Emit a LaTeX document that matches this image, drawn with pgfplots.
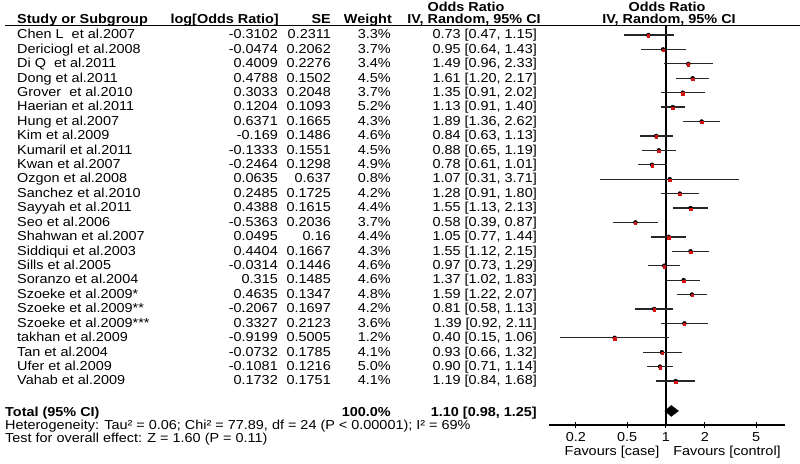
\documentclass[border=0pt]{standalone}
\usepackage{fontspec}
\setmainfont{Liberation Sans}[FakeStretch=1.11]
\usepackage{pgfplots}
\usepackage{pgfplotstable}
\pgfplotsset{compat=1.18}

\newcommand{\fs}{\fontsize{13}{14}\selectfont}
\definecolor{pointred}{RGB}{210,20,20}

% row, study, log OR, SE, weight, OR, lower, upper
\pgfplotstableread[col sep=comma]{
row,name,lor,se,w,or,lo,hi
1,Chen L~~et al.2007,-0.3102,0.2311,3.3,0.73,0.47,1.15
2,Dericiogl et al.2008,-0.0474,0.2062,3.7,0.95,0.64,1.43
3,Di Q~~et al.2011,0.4009,0.2276,3.4,1.49,0.96,2.33
4,Dong et al.2011,0.4788,0.1502,4.5,1.61,1.20,2.17
5,Grover~~et al.2010,0.3033,0.2048,3.7,1.35,0.91,2.02
6,Haerian et al.2011,0.1204,0.1093,5.2,1.13,0.91,1.40
7,Hung et al.2007,0.6371,0.1665,4.3,1.89,1.36,2.62
8,Kim et al.2009,-0.169,0.1486,4.6,0.84,0.63,1.13
9,Kumaril et al.2011,-0.1333,0.1551,4.5,0.88,0.65,1.19
10,Kwan et al.2007,-0.2464,0.1298,4.9,0.78,0.61,1.01
11,Ozgon et al.2008,0.0635,0.637,0.8,1.07,0.31,3.71
12,Sanchez et al.2010,0.2485,0.1725,4.2,1.28,0.91,1.80
13,Sayyah et al.2011,0.4388,0.1615,4.4,1.55,1.13,2.13
14,Seo et al.2006,-0.5363,0.2036,3.7,0.58,0.39,0.87
15,Shahwan et al.2007,0.0495,0.16,4.4,1.05,0.77,1.44
16,Siddiqui et al.2003,0.4404,0.1667,4.3,1.55,1.12,2.15
17,Sills et al.2005,-0.0314,0.1446,4.6,0.97,0.73,1.29
18,Soranzo et al.2004,0.315,0.1485,4.6,1.37,1.02,1.83
19,Szoeke et al.2009*,0.4635,0.1347,4.8,1.59,1.22,2.07
20,Szoeke et al.2009**,-0.2067,0.1697,4.2,0.81,0.58,1.13
21,Szoeke et al.2009***,0.3327,0.2123,3.6,1.39,0.92,2.11
22,takhan et al.2009,-0.9199,0.5005,1.2,0.40,0.15,1.06
23,Tan et al.2004,-0.0732,0.1785,4.1,0.93,0.66,1.32
24,Ufer et al.2009,-0.1081,0.1216,5.0,0.90,0.71,1.14
25,Vahab et al.2009,0.1732,0.1751,4.1,1.19,0.84,1.68
}\studies

\begin{document}
\begin{tikzpicture}[every node/.style={inner sep=0pt, font=\fs}]
\useasboundingbox (0,0) rectangle (800pt,463pt);

% x axis in log10 units: 0.2, 0.5, 1, 2, 5
\begin{axis}[
    at={(549pt,38pt)}, anchor=south west,
    scale only axis, width=236pt, height=399.5pt,
    xmin=-0.9066, xmax=0.9227,
    ymin=-28.046, ymax=-0.341,
    axis x line=bottom, axis y line=none,
    x axis line style={-, line width=1.1pt},
    xtick={-0.69897,-0.30103,0,0.30103,0.69897},
    xticklabels={0.2,0.5,1,2,5},
    tick align=center, major tick length=6pt,
    xtick style={line width=1pt, black},
    xticklabel style={anchor=base, yshift=-13pt},
    clip=false,
]
% line of no effect
\addplot[black, line width=1.3pt, forget plot] coordinates {(0,-0.341) (0,-28.046)};

% confidence intervals
\addplot[only marks, mark=none,
    error bars/.cd, x dir=both, x explicit, error mark=none,
    error bar style={line width=1.25pt, black!85}]
    table[x expr=log10(\thisrow{or}), y expr=-\thisrow{row},
          x error plus expr=log10(\thisrow{hi})-log10(\thisrow{or}),
          x error minus expr=log10(\thisrow{or})-log10(\thisrow{lo})] {\studies};

% point estimates
\addplot[only marks, mark=square*, mark size=1.2pt, color=pointred]
    table[x expr=log10(\thisrow{or}), y expr=-\thisrow{row}-0.06] {\studies};

% pooled estimate 1.10 [0.98, 1.25]
\addplot[fill=black, draw=black] table[x expr=log10(\thisrow{x}), y=y] {
x y
0.98 -27.07
1.10 -26.69
1.25 -27.07
1.10 -27.45
0.98 -27.07
};
\end{axis}

\begin{scope}[x=1pt, y=1pt]
% header
\draw[line width=1pt] (5,437.5) -- (800,437.5);
\node[anchor=base] at (466,451) {\bfseries Odds Ratio};
\node[anchor=base] at (667,451) {\bfseries Odds Ratio};
\node[anchor=base west] at (17,439) {\bfseries Study or Subgroup};
\node[anchor=base east] at (279,439) {\bfseries log[Odds Ratio]};
\node[anchor=base east] at (331,439) {\bfseries SE};
\node[anchor=base east] at (392,439) {\bfseries Weight};
\node[anchor=base] at (474,439) {\bfseries IV, Random, 95\% CI};
\node[anchor=base] at (669,439) {\bfseries IV, Random, 95\% CI};

% study rows
\foreach \r in {0,...,24} {
  \pgfplotstablegetelem{\r}{name}\of\studies \let\nm\pgfplotsretval
  \pgfplotstablegetelem{\r}{lor}\of\studies \let\vlor\pgfplotsretval
  \pgfplotstablegetelem{\r}{se}\of\studies \let\vse\pgfplotsretval
  \pgfplotstablegetelem{\r}{w}\of\studies \let\vw\pgfplotsretval
  \pgfplotstablegetelem{\r}{or}\of\studies \let\vor\pgfplotsretval
  \pgfplotstablegetelem{\r}{lo}\of\studies \let\vlo\pgfplotsretval
  \pgfplotstablegetelem{\r}{hi}\of\studies \let\vhi\pgfplotsretval
  \pgfmathsetmacro\yb{463-38.8-14.42*\r}
  \node[anchor=base west] at (17,\yb) {\nm};
  \node[anchor=base east] at (278,\yb) {\vlor};
  \node[anchor=base east] at (331,\yb) {\vse};
  \node[anchor=base east] at (391,\yb) {\vw\%};
  \node[anchor=base east] at (537,\yb) {\vor\ [\vlo, \vhi]};
}

% totals and footer
\node[anchor=base west] at (5,46.5) {\bfseries Total (95\% CI)};
\node[anchor=base east] at (391,46.5) {\bfseries 100.0\%};
\node[anchor=base east] at (537,46.5) {\bfseries 1.10 [0.98, 1.25]};
\node[anchor=base west] at (5,33.5) {Heterogeneity: Tau² = 0.06; Chi² = 77.89, df = 24 (P < 0.00001); I² = 69\%};
\node[anchor=base west] at (5,20.5) {Test for overall effect: Z = 1.60 (P = 0.11)};
\node[anchor=base] at (612,8) {Favours [case]};
\node[anchor=base] at (727,8) {Favours [control]};
\end{scope}
\end{tikzpicture}
\end{document}
